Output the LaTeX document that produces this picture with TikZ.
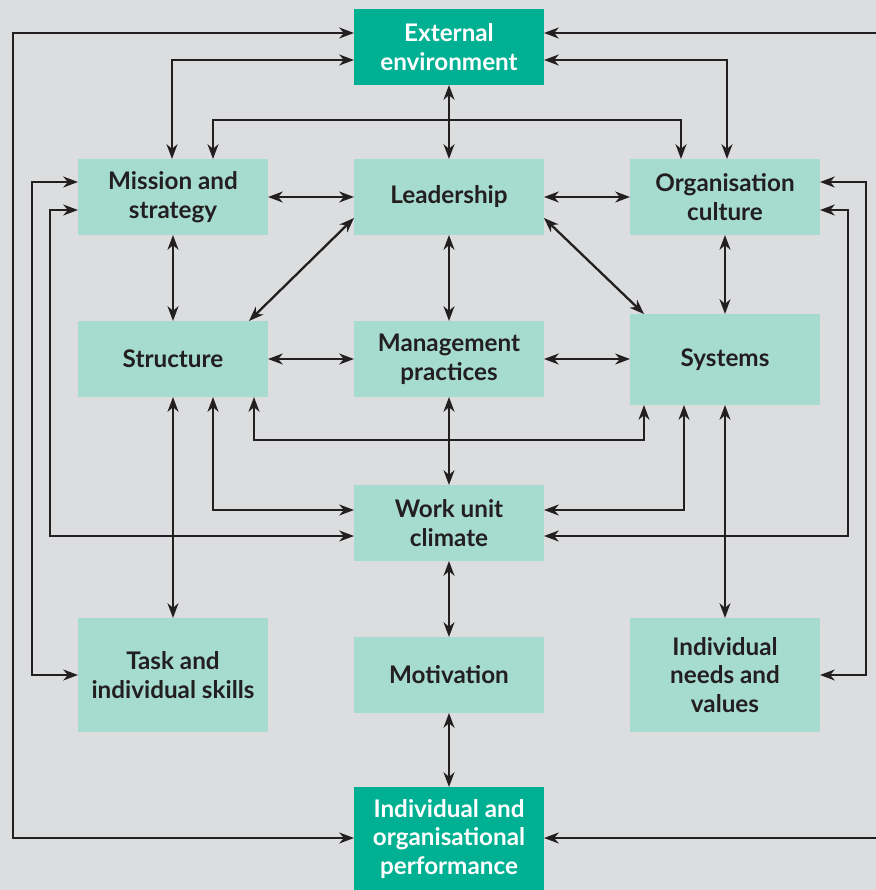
\documentclass[tikz,border=0pt]{standalone}
\usepackage{fontspec}
\setmainfont{Lato}
\usetikzlibrary{arrows.meta,calc}

\definecolor{bgGrey}{HTML}{DCDDDF}
\definecolor{lightTeal}{HTML}{A6DBCF}
\definecolor{darkTeal}{HTML}{00B092}
\definecolor{inkDark}{HTML}{231F20}

\tikzset{
  x=0.02cm, y=-0.02cm,
  >={Stealth[length=8.4pt,width=6.2pt,inset=2.6pt]},
  box/.style={fill=lightTeal, draw=none, outer sep=0pt, inner sep=0pt,
    minimum width=3.8cm, minimum height=1.52cm, align=center,
    text=inkDark, font=\fontsize{13.8}{16.4}\selectfont\bfseries},
  keybox/.style={box, fill=darkTeal, text=white},
  link/.style={draw=inkDark, line width=1.3pt, line join=miter},
}

\begin{document}
\begin{tikzpicture}
  \useasboundingbox (0,0) rectangle (876,890);
  \clip (0,0) rectangle (876,890);
  \fill[bgGrey] (0,0) rectangle (876,890);

  % nodes
  \node[keybox] (ext)   at (449,47)  {External\\environment};
  \node[box]    (mis)   at (173,197) {Mission and\\strategy};
  \node[box]    (lead)  at (449,197) {Leadership};
  \node[box]    (cul)   at (725,197) {Organisation\\culture};
  \node[box]    (str)   at (173,359) {Structure};
  \node[box]    (man)   at (449,359) {Management\\practices};
  \node[box, minimum height=1.82cm] (sys) at (725,359.5) {Systems};
  \node[box]    (work)  at (449,523) {Work unit\\climate};
  \node[box, minimum height=2.28cm] (task) at (173,675) {Task and\\individual skills};
  \node[box]    (mot)   at (449,675) {Motivation};
  \node[box, minimum height=2.28cm] (needs) at (725,675) {Individual\\needs and\\values};
  \node[keybox, minimum height=2.08cm] (perf) at (449,839) {Individual and\\organisational\\performance};

  % routing points
  \coordinate (oTL) at (13,33);   \coordinate (oBL) at (13,838);
  \coordinate (oTR) at (890,33);  \coordinate (oBR) at (890,838);
  \coordinate (eL)  at (172,60);  \coordinate (eR)  at (727,60);
  \coordinate (t1)  at (213,120); \coordinate (t2)  at (681,120);
  \coordinate (b1)  at (254,440); \coordinate (b2)  at (644,440);
  \coordinate (w1)  at (213,510); \coordinate (w2)  at (684,510);
  \coordinate (la1) at (32,182);  \coordinate (la2) at (32,675);
  \coordinate (lb1) at (50,210);  \coordinate (lb2) at (50,536);
  \coordinate (ra1) at (866,182); \coordinate (ra2) at (866,675);
  \coordinate (rb1) at (848,210); \coordinate (rb2) at (848,536);

  % outer feedback loops
  \draw[link,<->] (ext.west |- oTL) -- (oTL) -- (oBL) -- (perf.west |- oBL);
  \draw[link,<-] (ext.east |- oTR) -- (oTR);
  \draw[link,<-] (perf.east |- oBR) -- (oBR);

  % external environment links
  \draw[link,<->] (ext.west |- eL) -- (eL) -- (mis.north -| eL);
  \draw[link,<->] (ext.east |- eR) -- (eR) -- (cul.north -| eR);
  \draw[link,<->] (ext.south) -- (lead.north);
  \draw[link,<->] (mis.north -| t1) -- (t1) -- (t2) -- (cul.north -| t2);

  % top row
  \draw[link,<->] (mis.east) -- (lead.west);
  \draw[link,<->] (lead.east) -- (cul.west);

  % top to middle
  \draw[link,<->] (mis.south) -- (str.north);
  \draw[link,<->] (lead.south) -- (man.north);
  \draw[link,<->] (cul.south) -- (sys.north -| cul.south);
  \draw[link,<->] ($(lead.south west)+(0,-17)$) -- ($(str.north east)+(-19,0)$);
  \draw[link,<->] ($(lead.south east)+(0,-17)$) -- ($(sys.north west)+(14,0)$);

  % middle row
  \draw[link,<->] (str.east) -- (man.west);
  \draw[link,<->] (man.east) -- (sys.west |- man.east);

  % middle to work unit climate
  \draw[link,<->] (man.south) -- (work.north);
  \draw[link,<->] (str.south -| b1) -- (b1) -- (b2) -- (sys.south -| b2);
  \draw[link,<->] (work.west |- w1) -- (w1) -- (str.south -| w1);
  \draw[link,<->] (work.east |- w2) -- (w2) -- (sys.south -| w2);

  % side feedback lines
  \draw[link,<->] (mis.west |- la1) -- (la1) -- (la2) -- (task.west |- la2);
  \draw[link,<->] (mis.west |- lb1) -- (lb1) -- (lb2) -- (work.west |- lb2);
  \draw[link,<->] (cul.east |- ra1) -- (ra1) -- (ra2) -- (needs.east |- ra2);
  \draw[link,<->] (cul.east |- rb1) -- (rb1) -- (rb2) -- (work.east |- rb2);

  % lower part
  \draw[link,<->] (str.south) -- (task.north);
  \draw[link,<->] (sys.south -| cul.south) -- (needs.north);
  \draw[link,<->] (work.south) -- (mot.north);
  \draw[link,<->] (mot.south) -- (perf.north);
\end{tikzpicture}
\end{document}
